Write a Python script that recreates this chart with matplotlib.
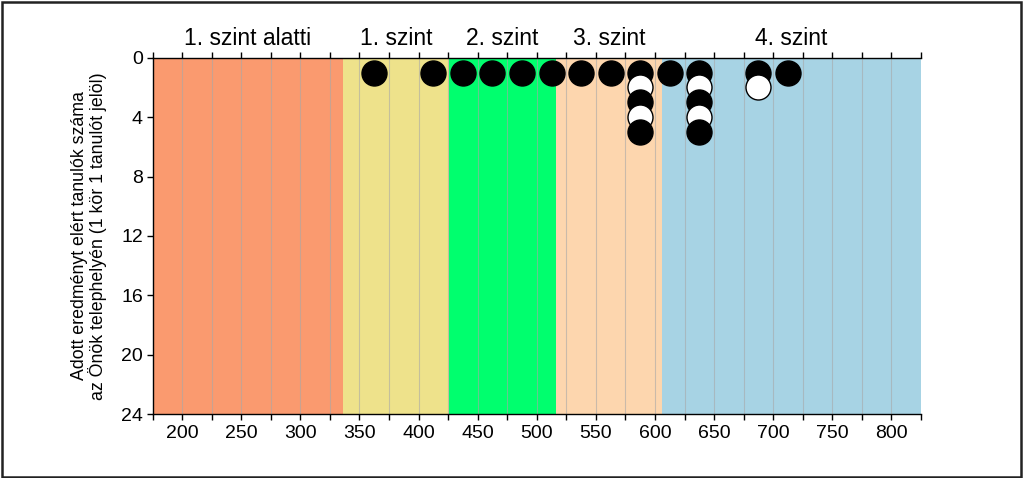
import matplotlib.pyplot as plt
import matplotlib.transforms as mtransforms
from matplotlib.patches import Rectangle

plt.rcParams['font.family'] = ['Liberation Sans', 'DejaVu Sans']

# Skill level bands (score boundaries)
level_edges = [175, 336, 426, 516, 606, 825]
level_names = ["1. szint alatti", "1. szint", "2. szint", "3. szint", "4. szint"]
level_colors = ["#FA9A6F", "#EEE28B", "#00FF6E", "#FDD6AE", "#A7D3E4"]

# One column per score bin; stack of circles from top (b = black, w = white)
col_x = [362.5, 412.5, 437.5, 462.5, 487.5, 512.5, 537.5, 562.5,
         587.5, 612.5, 637.5, 687.5, 712.5]
col_stack = ["b", "b", "b", "b", "b", "b", "b", "b",
             "bwbwb", "b", "bwbwb", "bw", "b"]

x_ticks = list(range(200, 801, 50))
y_ticks = list(range(0, 25, 4))

fig = plt.figure(figsize=(10.24, 4.78), dpi=100)
ax = fig.add_axes([0.1490, 0.1335, 0.7504, 0.7457])

# colour bands
for i in range(len(level_names)):
    ax.axvspan(level_edges[i], level_edges[i + 1], color=level_colors[i], zorder=0, lw=0)

# vertical grid every 25 points
for gx in range(200, 825, 25):
    ax.axvline(gx, color="#A8A8A8", lw=0.8, alpha=0.6, zorder=1)

# level names above the plot
trans = mtransforms.blended_transform_factory(ax.transData, ax.transAxes)
for i, name in enumerate(level_names):
    mid = (level_edges[i] + level_edges[i + 1]) / 2
    ax.text(mid, 1.055, name, transform=trans, ha="center", va="center", fontsize=16.5)

# student circles, drawn top-down so each overlaps the previous
for x, stack in zip(col_x, col_stack):
    for k, c in enumerate(stack):
        face = "black" if c == "b" else "white"
        ax.plot(x, k + 1, marker="o", markersize=18, markerfacecolor=face,
                markeredgecolor="black", markeredgewidth=1.0, zorder=3 + k,
                clip_on=False)

ax.set_xlim(175, 825)
ax.set_ylim(24, 0)
ax.set_xticks(x_ticks)
ax.set_xticks(range(175, 826, 25), minor=True)
ax.set_yticks(y_ticks)
ax.tick_params(axis="x", which="both", top=True, bottom=True, direction="out",
               length=4, width=1, labelsize=14, pad=4)
ax.tick_params(axis="y", direction="out", length=4, width=1, labelsize=14, pad=3)
ax.spines["right"].set_visible(False)
for s in ["left", "top", "bottom"]:
    ax.spines[s].set_linewidth(1)

ax.set_ylabel("Adott eredményt elért tanulók száma\naz Önök telephelyén (1 kör 1 tanulót jelöl)",
              fontsize=12.8, labelpad=10, linespacing=1.0)

# outer frame
fig.patches.append(Rectangle((0.002, 0.003), 0.995, 0.993, transform=fig.transFigure,
                             fill=False, edgecolor="#222222", lw=1.8))

fig.savefig("out.png", dpi=100)
